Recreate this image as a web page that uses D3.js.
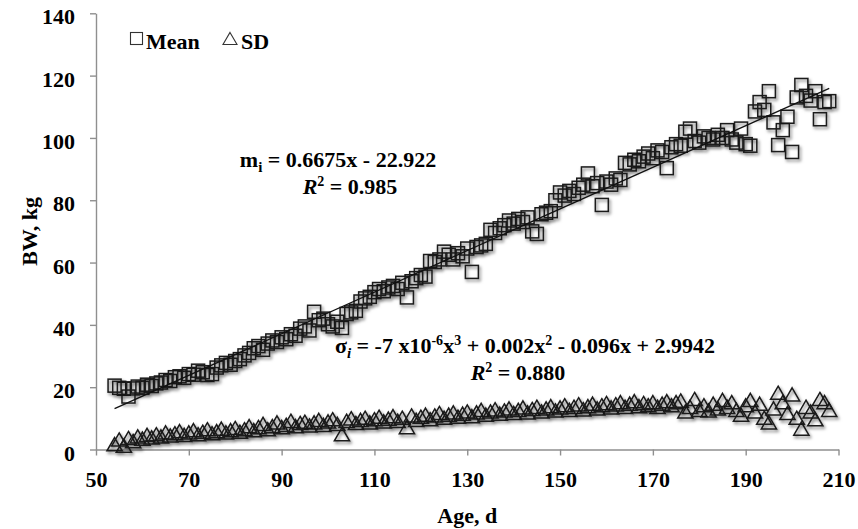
<!DOCTYPE html>
<html>
<head>
<meta charset="utf-8">
<script src="https://cdn.jsdelivr.net/npm/d3@7"></script>
<style>
  body { margin: 0; background: #fff; }
  svg text { font-family: "Liberation Serif", "Times New Roman", serif; font-weight: bold; fill: #000; }
</style>
</head>
<body>
<svg id="chart" width="858" height="529"></svg>
<script>
// age (d) of each observation
const ages = [
  54, 55, 56, 57, 58, 59, 60, 61, 62, 63, 64, 65, 66, 67, 68, 69, 70, 71, 72, 73,
  74, 75, 76, 77, 78, 79, 80, 81, 82, 83, 84, 85, 86, 87, 88, 89, 90, 91, 92, 93,
  94, 95, 96, 97, 98, 99, 100, 101, 102, 103, 104, 105, 106, 107, 108, 109, 110, 111, 112, 113,
  114, 115, 116, 117, 118, 119, 120, 121, 122, 123, 124, 125, 126, 127, 128, 129, 130, 131, 132, 133,
  134, 135, 136, 137, 138, 139, 140, 141, 142, 143, 144, 145, 146, 147, 148, 149, 150, 151, 152, 153,
  154, 155, 156, 157, 158, 159, 160, 161, 162, 163, 164, 165, 166, 167, 168, 169, 170, 171, 172, 173,
  174, 175, 176, 177, 178, 179, 180, 181, 182, 183, 184, 185, 186, 187, 188, 189, 190, 191, 192, 193,
  194, 195, 196, 197, 198, 199, 200, 201, 202, 203, 204, 205, 206, 207, 208
];

// mean body weight (kg)
const meanBW = [
  20.5, 19.8, 19.5, 17.0, 19.6, 20.2, 19.8, 20.8, 20.4, 21.2, 21.5, 22.3, 22.0, 23.2, 23.5, 23.0, 24.2, 24.0, 25.3, 24.8,
  23.9, 24.2, 26.3, 27.0, 27.8, 27.2, 28.4, 29.0, 30.2, 31.0, 32.5, 33.2, 32.0, 34.0, 35.0, 34.5, 36.0, 35.4, 37.0, 36.5,
  38.8, 39.5, 38.2, 44.2, 41.5, 42.0, 40.2, 39.5, 41.0, 39.0, 43.5, 44.0, 44.5, 47.5, 48.5, 49.0, 50.5, 51.5, 50.8, 52.0,
  52.5, 51.5, 53.5, 48.8, 54.0, 55.0, 56.0, 55.5, 60.5, 60.2, 61.0, 63.5, 62.5, 61.0, 63.0, 62.0, 64.5, 57.0, 65.0, 65.5,
  66.0, 70.5, 69.5, 71.0, 72.0, 73.5, 72.5, 74.0, 73.0, 74.5, 70.0, 69.2, 75.5, 76.0, 76.5, 80.0, 82.5, 81.5, 83.0, 82.0,
  84.0, 85.0, 88.6, 84.5, 85.5, 78.5, 86.0, 85.0, 87.0, 86.5, 92.0, 91.5, 93.0, 92.5, 94.0, 95.0, 93.5, 96.0, 95.5, 90.3,
  97.0, 98.0, 97.5, 102.0, 103.0, 99.0, 98.5, 100.5, 100.0, 99.5, 101.0, 100.0, 102.5, 99.5, 98.5, 103.0, 98.0, 97.5, 108.5, 111.5,
  109.0, 115.0, 105.0, 97.7, 102.5, 106.8, 95.5, 113.0, 117.0, 113.5, 112.0, 115.0, 106.0, 111.5, 111.8
];

// standard deviation of body weight (kg)
const sdBW = [
  1.0, 2.5, 0.5, 3.0, 2.0, 3.5, 2.8, 4.0, 3.2, 4.2, 3.5, 4.8, 3.8, 4.5, 5.2, 4.0, 4.8, 5.5, 4.2, 5.0,
  5.8, 4.5, 5.2, 6.0, 4.8, 5.5, 6.2, 5.0, 5.8, 6.8, 5.5, 6.5, 7.5, 5.8, 6.8, 8.0, 6.5, 7.2, 8.5, 6.8,
  7.8, 8.2, 7.0, 8.0, 8.8, 7.2, 8.3, 9.0, 7.5, 4.2, 8.5, 9.3, 7.8, 8.8, 9.5, 8.0, 9.0, 9.8, 8.3, 9.2,
  10.0, 8.5, 9.5, 6.5, 10.2, 8.8, 9.8, 10.5, 9.0, 10.2, 11.0, 9.5, 10.5, 11.2, 9.8, 10.8, 11.5, 10.0, 11.2, 12.0,
  10.5, 11.5, 12.2, 10.8, 11.8, 12.5, 11.0, 12.0, 12.8, 11.2, 12.3, 13.0, 11.5, 12.5, 13.2, 11.8, 12.8, 13.5, 12.0, 13.0,
  13.8, 12.2, 13.2, 14.0, 12.5, 13.5, 14.2, 12.8, 13.8, 14.5, 13.0, 14.0, 14.8, 13.2, 14.2, 13.5, 14.5, 13.0, 14.0, 14.8,
  13.5, 14.5, 15.0, 11.5, 13.0, 15.5, 12.0, 13.5, 11.8, 14.0, 12.5, 15.2, 13.0, 14.5, 12.0, 10.5, 13.5, 15.2, 11.5, 14.0,
  9.5, 8.0, 12.5, 17.5, 14.5, 11.0, 17.0, 9.5, 6.0, 13.0, 11.5, 9.0, 15.5, 14.5, 12.0
];

const xTicks = [50, 70, 90, 110, 130, 150, 170, 190, 210];
const yTicks = [0, 20, 40, 60, 80, 100, 120, 140];

// linear trend for the mean (from the chart label)
const meanSlope = 0.6675;
const meanIntercept = -22.922;

const svg = d3.select("#chart");

const x = d3.scaleLinear().domain([50, 210]).range([96, 838.5]);
const y = d3.scaleLinear().domain([0, 140]).range([449.5, 13.3]);

const defs = svg.append("defs");
defs.append("filter")
    .attr("id", "shadow")
    .attr("x", "-20%").attr("y", "-20%").attr("width", "140%").attr("height", "140%")
  .append("feDropShadow")
    .attr("dx", 1.5).attr("dy", 2.2)
    .attr("stdDeviation", 1.5)
    .attr("flood-color", "#000")
    .attr("flood-opacity", 0.55);

// axes
const yAxis = svg.append("g")
    .attr("transform", `translate(${x(50)},0)`)
    .call(d3.axisLeft(y).tickValues(yTicks).tickSize(6).tickSizeOuter(0).tickPadding(15));

const xAxis = svg.append("g")
    .attr("transform", `translate(0,${y(0)})`)
    .call(d3.axisBottom(x).tickValues(xTicks).tickSize(6).tickSizeOuter(0).tickPadding(16));

[xAxis, yAxis].forEach(a => {
  a.select(".domain").attr("stroke", "#8f8f8f").attr("stroke-width", 1.4);
  a.selectAll(".tick line").attr("stroke", "#8f8f8f").attr("stroke-width", 1.4);
  a.selectAll(".tick text")
    .attr("font-size", 22)
    .style("font-family", '"Liberation Serif", "Times New Roman", serif')
    .style("font-weight", "bold")
    .attr("fill", "#000");
});
yAxis.selectAll(".tick text").attr("dy", "0.48em");

// axis titles
svg.append("text")
    .attr("x", (x(50) + x(210)) / 2)
    .attr("y", 523)
    .attr("text-anchor", "middle")
    .attr("font-size", 22)
    .text("Age, d");

svg.append("text")
    .attr("transform", `translate(37,${(y(0) + y(140)) / 2}) rotate(-90)`)
    .attr("text-anchor", "middle")
    .attr("font-size", 22)
    .text("BW, kg");

// SD points (triangles)
const tri = d3.symbol().type(d3.symbolTriangle).size(100);
svg.append("g")
    .attr("filter", "url(#shadow)")
  .selectAll("path")
  .data(ages.map((a, i) => [a, sdBW[i]]))
  .join("path")
    .attr("d", tri)
    .attr("transform", d => `translate(${x(d[0])},${y(d[1])})`)
    .attr("fill", "none")
    .attr("stroke", "#1a1a1a")
    .attr("stroke-width", 1.5);

// mean points (squares)
const sq = 13;
svg.append("g")
    .attr("filter", "url(#shadow)")
  .selectAll("rect")
  .data(ages.map((a, i) => [a, meanBW[i]]))
  .join("rect")
    .attr("x", d => x(d[0]) - sq / 2)
    .attr("y", d => y(d[1]) - sq / 2)
    .attr("width", sq)
    .attr("height", sq)
    .attr("fill", "none")
    .attr("stroke", "#1a1a1a")
    .attr("stroke-width", 1.5);

// mean trend line
const ageExtent = d3.extent(ages);
svg.append("line")
    .attr("x1", x(ageExtent[0])).attr("y1", y(meanSlope * ageExtent[0] + meanIntercept))
    .attr("x2", x(ageExtent[1])).attr("y2", y(meanSlope * ageExtent[1] + meanIntercept))
    .attr("stroke", "#111")
    .attr("stroke-width", 1.3);

// rich text helper: segments [text, mode] where mode: "", "sub", "sup", "it", "itsub"
function richText(px, py, segs, anchor) {
  const t = svg.append("text")
      .attr("x", px).attr("y", py)
      .attr("text-anchor", anchor || "middle")
      .attr("font-size", 22);
  let shift = 0;
  segs.forEach(([s, mode]) => {
    const sp = t.append("tspan").text(s);
    let target = 0;
    if (mode.includes("sup")) { target = -8; sp.attr("font-size", 14); }
    if (mode.includes("sub")) { target = 5; sp.attr("font-size", 15); }
    if (mode.includes("it")) sp.attr("font-style", "italic");
    if (target !== shift) { sp.attr("dy", target - shift); shift = target; }
  });
  return t;
}

richText(338, 167, [["m", ""], ["i", "sub"], [" = 0.6675x - 22.922", ""]]);
richText(350, 194, [["R", "it"], ["2", "sup"], [" = 0.985", ""]]);
richText(525, 353, [
  ["σ", ""], ["i", "itsub"], [" = -7 x10", ""], ["-6", "sup"], ["x", ""], ["3", "sup"],
  [" + 0.002x", ""], ["2", "sup"], [" - 0.096x + 2.9942", ""]
]);
richText(518, 380, [["R", "it"], ["2", "sup"], [" = 0.880", ""]]);

// legend
const leg = svg.append("g");
leg.append("rect")
    .attr("x", 130.5).attr("y", 32.5).attr("width", 12).attr("height", 12)
    .attr("fill", "none").attr("stroke", "#333").attr("stroke-width", 1.1);
leg.append("text").attr("x", 146).attr("y", 49).attr("font-size", 22).text("Mean");
leg.append("path")
    .attr("d", d3.symbol().type(d3.symbolTriangle).size(85))
    .attr("transform", "translate(230,40.5)")
    .attr("fill", "none").attr("stroke", "#333").attr("stroke-width", 1.1);
leg.append("text").attr("x", 241).attr("y", 49).attr("font-size", 22).text("SD");
</script>
</body>
</html>
